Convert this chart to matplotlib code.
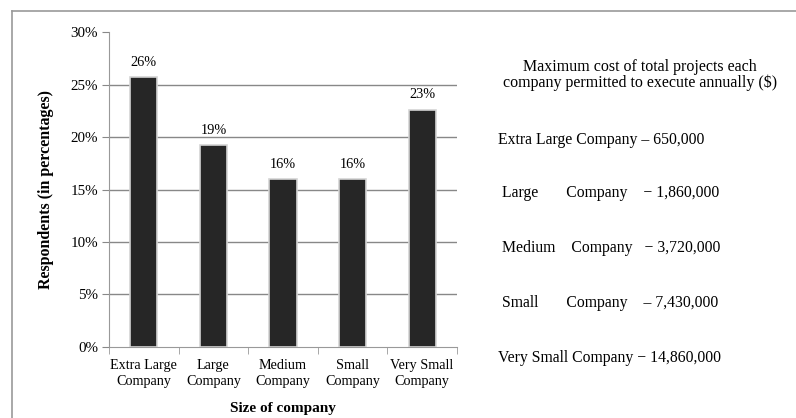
import numpy as np
import matplotlib.pyplot as plt
from matplotlib.lines import Line2D

plt.rcParams['font.family'] = ['Liberation Serif', 'DejaVu Serif']

companies = ['Extra Large\nCompany', 'Large\nCompany', 'Medium\nCompany',
             'Small\nCompany', 'Very Small\nCompany']
respondents = [25.7, 19.2, 16.0, 16.0, 22.6]
yticks = [0, 5, 10, 15, 20, 25, 30]

cost_title = 'Maximum cost of total projects each\ncompany permitted to execute annually ($)'
cost_lines = ['Extra Large Company \u2013 650,000',
              ' Large       Company    \u2212 1,860,000',
              ' Medium    Company   \u2212 3,720,000',
              ' Small       Company    \u2013 7,430,000',
              'Very Small Company \u2212 14,860,000']

fig = plt.figure(figsize=(7.96, 4.18), dpi=100)
ax = fig.add_axes([0.137, 0.170, 0.437, 0.753])

x = np.arange(len(companies))
ax.bar(x, respondents, width=0.39, color='#262626', edgecolor='#d4d4d4',
       linewidth=1.2, zorder=3)
for xi, v in zip(x, respondents):
    ax.text(xi, v + 0.8, '{:.0f}%'.format(v), ha='center', va='bottom', fontsize=10.3)

ax.set_xlim(-0.5, len(companies) - 0.5)
ax.set_ylim(0, 30)
ax.set_yticks(yticks)
ax.set_yticklabels(['{}%'.format(t) for t in yticks], fontsize=10.8)
ax.set_xticks(x)
ax.set_xticklabels(companies, fontsize=10.2, linespacing=1.3)
ax.set_xticks(np.arange(len(companies) + 1) - 0.5, minor=True)
ax.tick_params(axis='x', which='major', length=0, pad=9)
ax.tick_params(axis='x', which='minor', length=5, color='#999999', direction='out')
ax.tick_params(axis='y', length=5, color='#888888', pad=3)

# gridlines at 5..25, none at the top
for t in yticks[1:-1]:
    ax.axhline(t, color='#888888', linewidth=1, zorder=1)

for side in ['top', 'right']:
    ax.spines[side].set_visible(False)
ax.spines['left'].set_color('#999999')
ax.spines['bottom'].set_color('#999999')

ax.set_ylabel('Respondents (in percentages)', fontsize=11.5, fontweight='bold', labelpad=12)
ax.set_xlabel('Size of company', fontsize=11, fontweight='bold', labelpad=10)

fig.text(0.804, 0.820, cost_title, ha='center', va='center', fontsize=11.5,
         linespacing=1.0)
ys = [0.665, 0.538, 0.407, 0.275, 0.144]
for y, s in zip(ys, cost_lines):
    fig.text(0.625, y, s, ha='left', va='center', fontsize=11.3)

# frame on the top and left edges
fig.add_artist(Line2D([0.015, 1.0], [0.974, 0.974], color='#999999', linewidth=1.2))
fig.add_artist(Line2D([0.015, 0.015], [0.0, 0.974], color='#999999', linewidth=1.2))

plt.savefig('out.png', dpi=100)
